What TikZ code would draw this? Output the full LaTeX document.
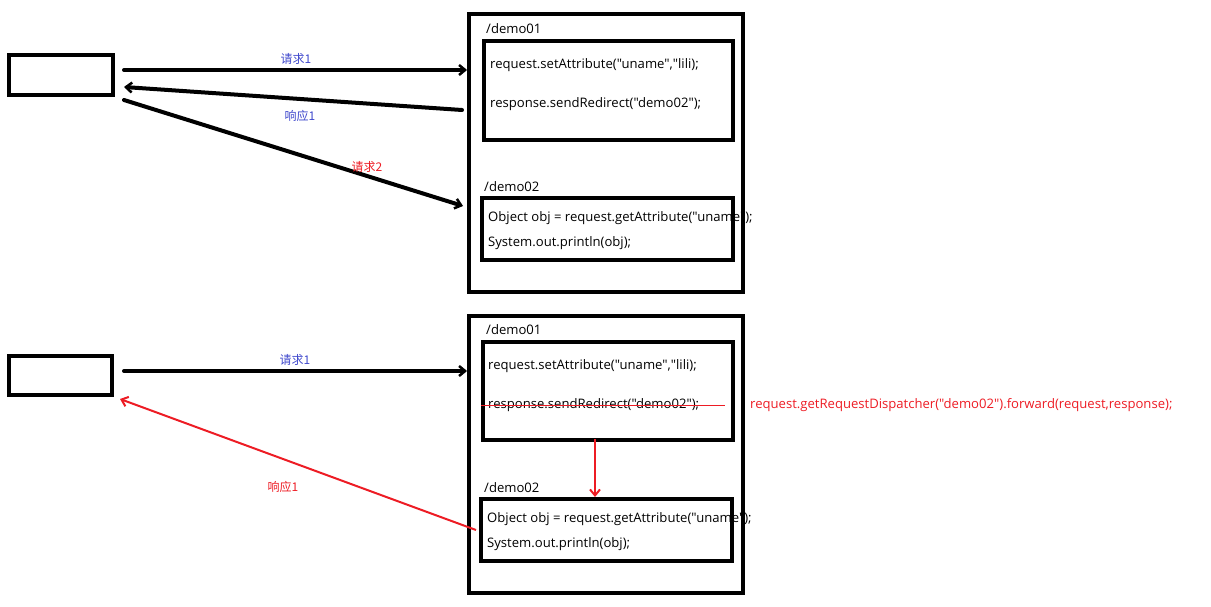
\documentclass[tikz,border=0pt]{standalone}
\usepackage{fontspec}
\setmainfont{Noto Sans CJK SC}
\newfontfamily\codefont{Open Sans}[Ligatures=TeXOff]
\usepackage{xcolor}
\usetikzlibrary{arrows.meta}
\definecolor{paintred}{RGB}{237,28,36}
\definecolor{paintblue}{RGB}{63,72,204}

\begin{document}
\begin{tikzpicture}[x=1pt,y=-1pt,
  box/.style={draw, line width=4pt, inner sep=0pt},
  code/.style={anchor=west, inner sep=0pt, font=\codefont\fontsize{13.1}{15}\selectfont},
  lbl/.style={inner sep=0pt, font=\fontsize{12}{14}\selectfont},
  fat/.style={line width=4pt, line cap=round, -{Straight Barb[length=6pt,width=10pt,line width=2.5pt]}},
  thin/.style={paintred, line width=2pt, -{Straight Barb[length=6pt,width=10pt]}}]
\useasboundingbox (0,0) rectangle (1211,607);
% --- redirect ---
\node[code] (nA1) at (486,29) {/demo01};
\node[code] (setA) at (490,65) {request.setAttribute("uname","lili);};
\node[code] (redirA) at (490,104) {response.sendRedirect("demo02");};
\node[code] (nA2) at (484,187) {/demo02};
\node[code] (getA) at (488,218) {Object obj = request.getAttribute("uname");};
\node[code] (outA) at (488,243) {System.out.println(obj);};
\node[box, minimum width=104pt, minimum height=40pt] (client1) at (61,75) {};
\node[box, minimum width=274pt, minimum height=278pt] (server1) at (606,153) {};
\node[box, minimum width=249pt, minimum height=99pt] (dA1) at (608.5,90.5) {};
\node[box, minimum width=251pt, minimum height=62pt] (dA2) at (607.5,229) {};
\draw[fat] ([shift={(9,-5)}]client1.east) coordinate (rq1) -- (rq1 -| server1.west);
\draw[fat] ([shift={(-5,-43)}]server1.west) -- ([shift={(9,12)}]client1.east);
\draw[fat] ([shift={(9,25)}]client1.east) -- ([shift={(-4,53)}]server1.west);
\node[lbl, paintblue] (lrq1) at (296,59) {请求1};
\node[lbl, paintblue] (lrs1) at (300,116) {响应1};
\node[lbl, paintred] (lrq2) at (367,167) {请求2};
% --- forward ---
\node[code] (nB1) at (486,330) {/demo01};
\node[code] (setB) at (488,366) {request.setAttribute("uname","lili);};
\node[code] (redirB) at (488,405) {response.sendRedirect("demo02");};
\node[code] (nB2) at (484,488) {/demo02};
\node[code] (getB) at (487,519) {Object obj = request.getAttribute("uname");};
\node[code] (outB) at (487,544) {System.out.println(obj);};
\node[code, paintred] (fwd) at (750,405) {request.getRequestDispatcher("demo02").forward(request,response);};
\node[box, minimum width=103pt, minimum height=39pt] (client2) at (60.5,375.5) {};
\node[box, minimum width=274pt, minimum height=277pt] (server2) at (606,454.5) {};
\node[box, minimum width=250pt, minimum height=98pt] (dB1) at (608,391) {};
\node[box, minimum width=251pt, minimum height=62pt] (dB2) at (606.5,530) {};
\draw[paintred, line width=1pt] (dB1.west |- redirB.west) -- ([xshift=-10]dB1.east |- redirB.west);
\draw[thin] ([shift={(-13,-3)}]dB1.south) coordinate (fw) -- (fw |- dB2.north);
\draw[fat] ([shift={(10,-4.5)}]client2.east) coordinate (rq2) -- (rq2 -| server2.west);
\draw[thin] ([xshift=-3]dB2.west) -- ([shift={(6,2)}]client2.south east);
\node[lbl, paintblue] (lrq3) at (295,360) {请求1};
\node[lbl, paintred] (lrs2) at (283,487) {响应1};
\end{tikzpicture}
\end{document}
